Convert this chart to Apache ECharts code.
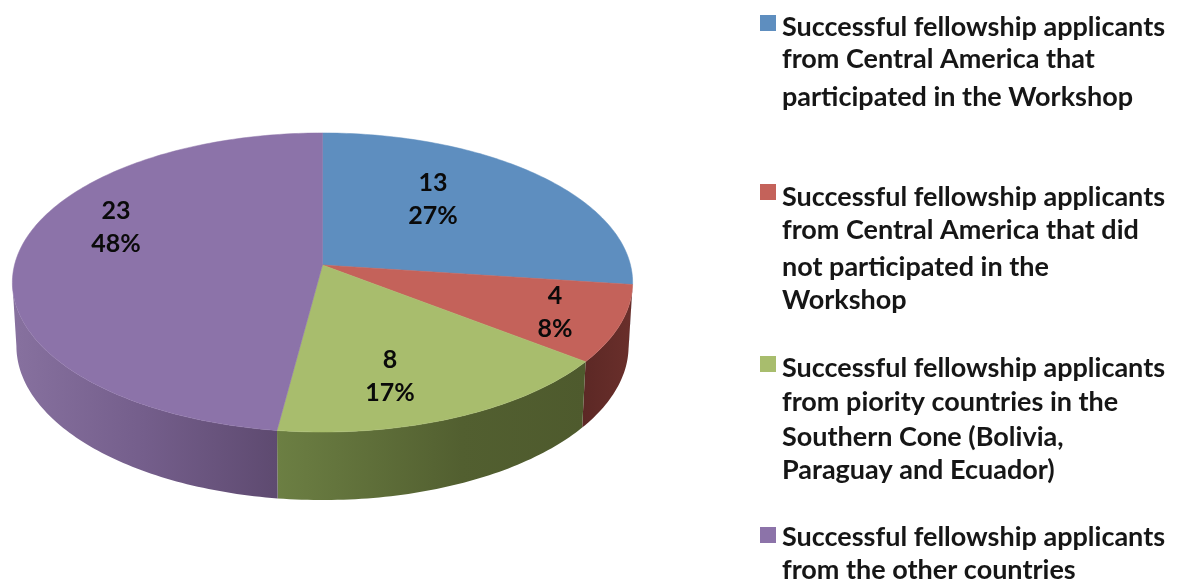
<!DOCTYPE html>
<html><head><meta charset="utf-8">
<style>html,body{margin:0;padding:0;background:#fff}#c{width:1179px;height:580px}</style>
<script src="https://cdn.jsdelivr.net/npm/echarts@6/dist/echarts.min.js"></script>
</head><body><div id="c"></div>
<script>
// ---- data ----
const categories = [
  'Successful fellowship applicants from Central America that participated in the Workshop',
  'Successful fellowship applicants from Central America that did not participated in the Workshop',
  'Successful fellowship applicants from piority countries in the Southern Cone (Bolivia, Paraguay and Ecuador)',
  'Successful fellowship applicants from the other countries'
];
const legendLines = [
  ['Successful fellowship applicants', 'from Central America that', 'participated in the Workshop'],
  ['Successful fellowship applicants', 'from Central America that did', 'not participated in the', 'Workshop'],
  ['Successful fellowship applicants', 'from piority countries in the', 'Southern Cone (Bolivia,', 'Paraguay and Ecuador)'],
  ['Successful fellowship applicants', 'from the other countries']
];
const values = [13, 4, 8, 23];

// ---- styles and layout ----
const FONT = 'Lato, "Open Sans", sans-serif';
const topColors = ['#5e8ebf', '#c4625a', '#a8bd6d', '#8c73a9'];
const wallStops = [
  [[0, '#3b5f88'], [1, '#3b5f88']],
  [[0, '#5c2825'], [1, '#6a2f2b']],
  [[0, '#6c7f43'], [0.6, '#525f30'], [1, '#4e5a2d']],
  [[0, '#87719f'], [0.5, '#745e8b'], [1, '#5e4a70']]
];
const labelCenters = [[433, 199], [555, 312], [390, 376], [116, 227]];
const legendMarkerTop = [15, 184, 356, 527];
const legendLineY = [
  [27, 59, 97],
  [197, 230, 267, 300],
  [368, 402, 437, 470],
  [537, 570]
];
const legendTextX = 782;

// Perspective projection of the pie's disc
const CX = 322.5, CY = 265, A = 308, B = 147.5, K = 0.117;
const total = values.reduce((a, b) => a + b, 0);
function project(deg, low) {
  const t = deg * Math.PI / 180, u = Math.sin(t), v = -Math.cos(t), d = 1 - K * v;
  if (low) return [CX + 0.987 * A * u / d, CY + 63 + 1.03 * B * v / d];
  return [CX + A * u / d, CY + B * v / d];
}
function arc(a0, a1, low) {
  const pts = [], n = Math.max(2, Math.ceil(Math.abs(a1 - a0)));
  for (let i = 0; i <= n; i++) pts.push(project(a0 + (a1 - a0) * i / n, low));
  return pts;
}
// visible part of the side wall
const SIL0 = Math.acos(-K) * 180 / Math.PI, SIL1 = 360 - SIL0;

function renderSlice(params, api) {
  const i = params.seriesIndex, value = api.value(0);
  let before = 0;
  for (let j = 0; j < i; j++) before += values[j];
  const a0 = before / total * 360, a1 = (before + value) / total * 360;
  const children = [];
  const w0 = Math.max(a0, SIL0), w1 = Math.min(a1, SIL1);
  if (w1 > w0) {
    const up = arc(w0, w1, false), lo = arc(w0, w1, true).reverse();
    const xs = up.concat(lo).map(p => p[0]);
    const stops = wallStops[i].map(s => ({ offset: s[0], color: s[1] }));
    const fill = new echarts.graphic.LinearGradient(
      Math.min.apply(null, xs), 0, Math.max.apply(null, xs), 0, stops, true);
    children.push({ type: 'polygon', shape: { points: up.concat(lo) }, style: { fill, stroke: null } });
  }
  children.push({
    type: 'polygon',
    shape: { points: [[CX, CY]].concat(arc(a0, a1, false)) },
    style: { fill: topColors[i], stroke: topColors[i], lineWidth: 0.5 }
  });
  const c = labelCenters[i];
  children.push({
    type: 'text', z2: 50,
    style: {
      x: c[0], y: c[1], align: 'center', verticalAlign: 'middle',
      text: value + '\n' + Math.round(value / total * 100) + '%',
      font: 'bold 25px ' + FONT, lineHeight: 33, fill: '#0a0a0a'
    }
  });
  return { type: 'group', children };
}

const graphicLines = [];
legendLines.forEach((lines, i) => lines.forEach((line, j) => {
  graphicLines.push({
    type: 'text', x: legendTextX, y: legendLineY[i][j],
    style: { text: line, font: 'bold 27px ' + FONT, fill: '#161616', align: 'left', verticalAlign: 'middle' }
  });
}));

const chart = echarts.init(document.getElementById('c'), null, { renderer: 'canvas' });
chart.setOption({
  animation: false,
  backgroundColor: '#fff',
  legend: categories.map((name, i) => ({
    left: 760, top: legendMarkerTop[i], orient: 'vertical', padding: 0,
    itemWidth: 16, itemHeight: 16, icon: 'rect', data: [name],
    formatter: () => '', selectedMode: false
  })),
  series: categories.map((name, i) => ({
    type: 'custom', name, coordinateSystem: 'none',
    itemStyle: { color: topColors[i] },
    renderItem: renderSlice,
    data: [[values[i]]]
  })),
  graphic: graphicLines
});
</script></body></html>
